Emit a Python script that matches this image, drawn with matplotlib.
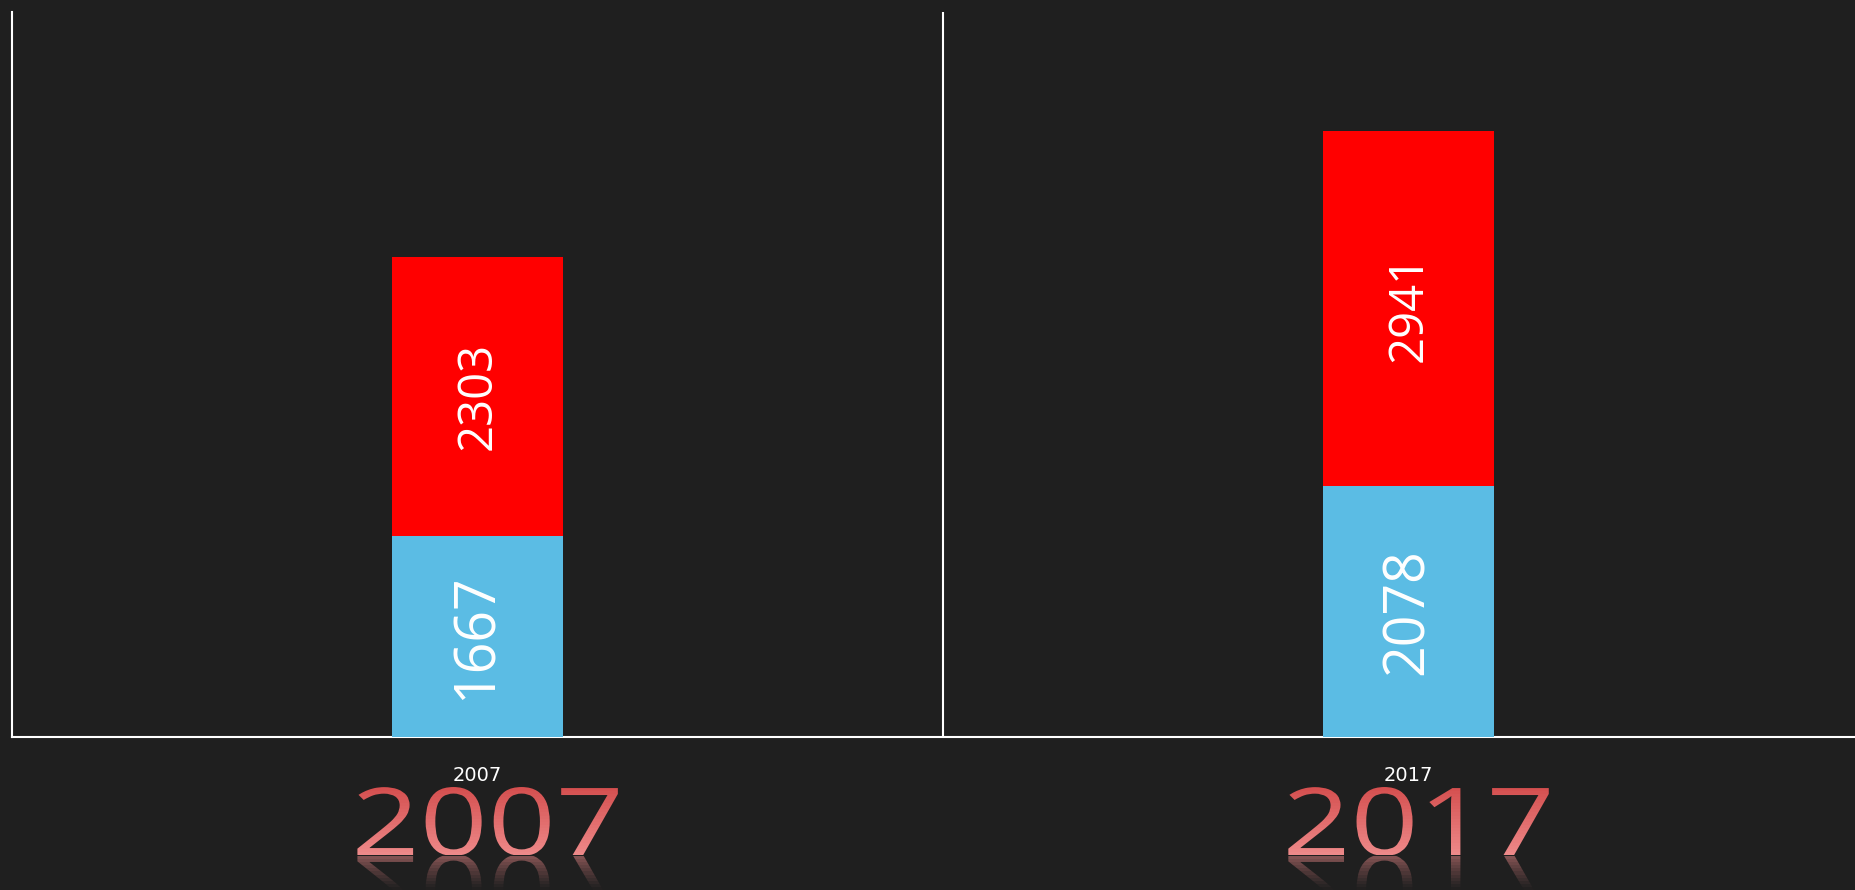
import numpy as np
import matplotlib
matplotlib.use('Agg')
import matplotlib.pyplot as plt
from matplotlib import patheffects as pe
from matplotlib.transforms import Affine2D, Bbox, blended_transform_factory
from matplotlib.colors import to_rgb

# data
years = ['2007', '2017']
blue_vals = [1667, 2078]
red_vals = [2303, 2941]

BG = '#1f1f1f'
BLUE = '#5BBCE4'
RED = '#FF0000'
PINK_TOP = '#D44F4F'
PINK_BOT = '#EE8A8A'

W, H = 1855, 890


class Warp(pe.AbstractPathEffect):
    # stretch the glyphs sideways and optionally mirror them about the baseline
    def __init__(self, trans, x0, y0, sx=1.0, flip=False):
        super().__init__()
        self.trans, self.x0, self.y0, self.sx, self.flip = trans, x0, y0, sx, flip

    def draw_path(self, renderer, gc, tpath, affine, rgbFace=None):
        cx, cy = self.trans.transform((self.x0, self.y0))
        sy = -1 if self.flip else 1
        warp = Affine2D().translate(-cx, -cy).scale(self.sx, sy).translate(cx, cy)
        renderer.draw_path(gc, tpath, affine + warp, rgbFace)


fig = plt.figure(figsize=(W / 100, H / 100), dpi=100, facecolor=BG)
ax = fig.add_axes([12 / W, 153 / H, 1862 / W, 725 / H])
ax.set_facecolor(BG)

x = np.arange(len(years))
ax.bar(x, blue_vals, width=0.184, color=BLUE, zorder=3)
ax.bar(x, red_vals, bottom=blue_vals, width=0.184, color=RED, zorder=3)

for i in range(len(years)):
    ax.text(x[i], blue_vals[i] / 2, str(blue_vals[i]), rotation=90,
            ha='center', va='center', color='white', fontsize=40,
            family='Open Sans', zorder=4)
    ax.text(x[i], blue_vals[i] + red_vals[i] / 2, str(red_vals[i]), rotation=90,
            ha='center', va='center', color='white', fontsize=34,
            family='Open Sans', zorder=4)

ax.set_xlim(-0.5, 1.5)
ax.set_ylim(0, 6000)
ax.axvline(0.5, color='white', lw=1.5)
for s in ['top', 'right']:
    ax.spines[s].set_visible(False)
for s in ['left', 'bottom']:
    ax.spines[s].set_color('white')
    ax.spines[s].set_linewidth(1.5)
ax.set_yticks([])
ax.set_xticks(x)
ax.set_xticklabels(years, color='white', fontsize=14)
ax.tick_params(axis='x', length=0, pad=21)

# big year captions with gradient and reflection
ov = fig.add_axes([0, 0, 1, 1])
ov.set_xlim(0, W)
ov.set_ylim(0, H)
ov.axis('off')
tr = blended_transform_factory(ax.transData, ov.transData)

top, base = H - 788, H - 855
c_top, c_bot, bg = np.array(to_rgb(PINK_TOP)), np.array(to_rgb(PINK_BOT)), np.array(to_rgb(BG))

for i, yr in enumerate(years):
    xc = x[i] + 0.011
    edges = np.linspace(top + 12, base, 27).round()
    for k in range(len(edges) - 1):
        t = np.clip(((edges[k] + edges[k + 1]) / 2 - top) / (base - top), 0, 1)
        col = c_top * (1 - t) + c_bot * t
        txt = ov.text(xc, base, yr, transform=tr, ha='center', va='baseline',
                      fontsize=67.5, family='Open Sans', color=col,
                      path_effects=[Warp(tr, xc, base, sx=1.27)])
        txt.set_clip_path(None)
        txt.set_clip_box(Bbox([[0, edges[k + 1]], [W, edges[k]]]))
        txt.set_clip_on(True)
    redges = np.linspace(base - 1, 0, 12).round()
    for k in range(len(redges) - 1):
        t = (k + 0.5) / (len(redges) - 1)
        a = 0.5 * (1 - t) ** 1.2
        col = c_bot * a + bg * (1 - a)
        txt = ov.text(xc, base, yr, transform=tr, ha='center', va='baseline',
                      fontsize=67.5, family='Open Sans', color=col,
                      path_effects=[Warp(tr, xc, base, sx=1.27, flip=True)])
        txt.set_clip_path(None)
        txt.set_clip_box(Bbox([[0, redges[k + 1]], [W, redges[k]]]))
        txt.set_clip_on(True)

fig.savefig('out.png', dpi=100, facecolor=BG)
